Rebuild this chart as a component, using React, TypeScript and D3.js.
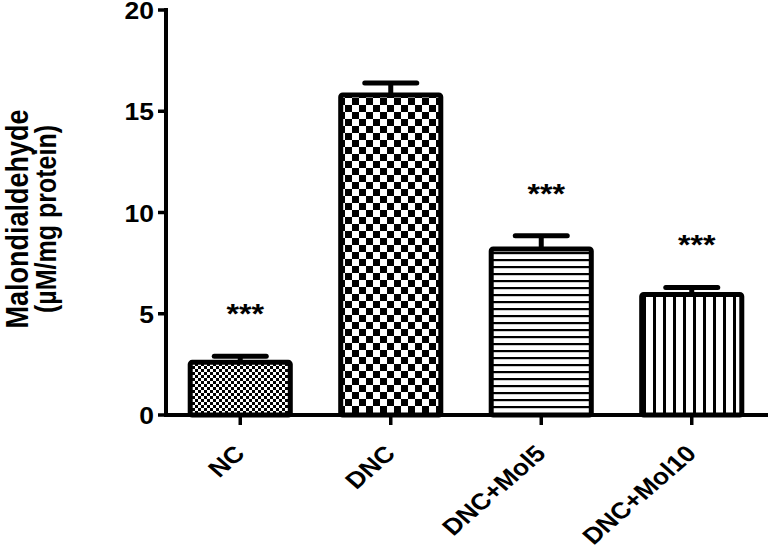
import React from "react";
import * as d3 from "d3";

const categories = ["NC", "DNC", "DNC+Mol5", "DNC+Mol10"];
const means = [2.6, 15.8, 8.2, 5.95];
const errors = [0.3, 0.6, 0.65, 0.35];
const significance = ["***", "", "***", "***"];
const yTicks = [0, 5, 10, 15, 20];
const patterns = ["fineChecker", "coarseChecker", "hLines", "vLines"];

const W = 770;
const H = 560;
const SX = 1.15;

export default function App() {
  const x = d3
    .scaleBand<string>()
    .domain(categories)
    .range([165, 767])
    .paddingInner(0.335)
    .paddingOuter(0.1675);
  const y = d3.scaleLinear().domain([0, 20]).range([415, 10]);
  const bw = x.bandwidth();
  const font = "'Liberation Sans', Arial, sans-serif";

  return (
    <svg
      width={W}
      height={H}
      style={{ position: "absolute", left: 0, top: 0, background: "#fff" }}
      fontFamily={font}
    >
      <defs>
        <pattern id="fineChecker" width={6} height={6} patternUnits="userSpaceOnUse">
          <rect width={6} height={6} fill="#fff" />
          <rect width={3} height={3} fill="#000" />
          <rect x={3} y={3} width={3} height={3} fill="#000" />
        </pattern>
        <pattern id="coarseChecker" width={14} height={14} patternUnits="userSpaceOnUse" x={2} y={0}>
          <rect width={14} height={14} fill="#fff" />
          <rect width={7} height={7} fill="#000" />
          <rect x={7} y={7} width={7} height={7} fill="#000" />
        </pattern>
        <pattern id="hLines" width={8} height={7} patternUnits="userSpaceOnUse">
          <rect width={8} height={7} fill="#fff" />
          <rect y={0} width={8} height={2.2} fill="#000" />
        </pattern>
        <pattern id="vLines" width={10} height={8} patternUnits="userSpaceOnUse" x={3}>
          <rect width={10} height={8} fill="#fff" />
          <rect x={0} width={3} height={8} fill="#000" />
        </pattern>
      </defs>

      {/* bars */}
      {categories.map((c, i) => {
        const x0 = x(c)!;
        const cx = x0 + bw / 2;
        const top = y(means[i]);
        const errTop = y(means[i] + errors[i]);
        return (
          <g key={c}>
            <line x1={cx} x2={cx} y1={top} y2={errTop} stroke="#000" strokeWidth={5} />
            <line
              x1={cx - 26}
              x2={cx + 26}
              y1={errTop}
              y2={errTop}
              stroke="#000"
              strokeWidth={5}
              strokeLinecap="round"
            />
            <rect
              x={x0}
              y={top}
              width={bw}
              height={y(0) - top}
              fill={`url(#${patterns[i]})`}
              stroke="#000"
              strokeWidth={5}
              rx={2}
            />
            {significance[i] && (
              <text
                transform={`translate(${cx + 5},${errTop - 33}) scale(${SX},1)`}
                textAnchor="middle"
                fontSize={28}
                fontWeight="bold"
              >
                {significance[i]}
              </text>
            )}
          </g>
        );
      })}

      {/* y axis */}
      <line x1={166} x2={166} y1={8} y2={417} stroke="#000" strokeWidth={4} />
      {yTicks.map((t) => (
        <g key={t}>
          <line x1={158} x2={166} y1={y(t)} y2={y(t)} stroke="#000" strokeWidth={3.5} />
          <text
            transform={`translate(154,${y(t) + 9}) scale(${SX},1)`}
            textAnchor="end"
            fontSize={23}
            fontWeight="bold"
          >
            {t}
          </text>
        </g>
      ))}

      {/* x axis */}
      <line x1={164} x2={768} y1={415} y2={415} stroke="#000" strokeWidth={4} />
      {categories.map((c) => {
        const cx = x(c)! + bw / 2;
        return (
          <g key={c}>
            <line x1={cx} x2={cx} y1={415} y2={425} stroke="#000" strokeWidth={3.5} />
            <text
              transform={`translate(${cx + 6},${455}) scale(${SX},1) rotate(-45)`}
              textAnchor="end"
              fontSize={23}
              fontWeight="bold"
            >
              {c}
            </text>
          </g>
        );
      })}

      {/* y axis title */}
      <text
        transform={`translate(28,219) scale(${SX},1) rotate(-90)`}
        textAnchor="middle"
        fontSize={27}
        fontWeight="bold"
      >
        Malondialdehyde
      </text>
      <text
        transform={`translate(56,219) scale(${SX},1) rotate(-90)`}
        textAnchor="middle"
        fontSize={25}
        fontWeight="bold"
      >
        (µM/mg protein)
      </text>
    </svg>
  );
}
